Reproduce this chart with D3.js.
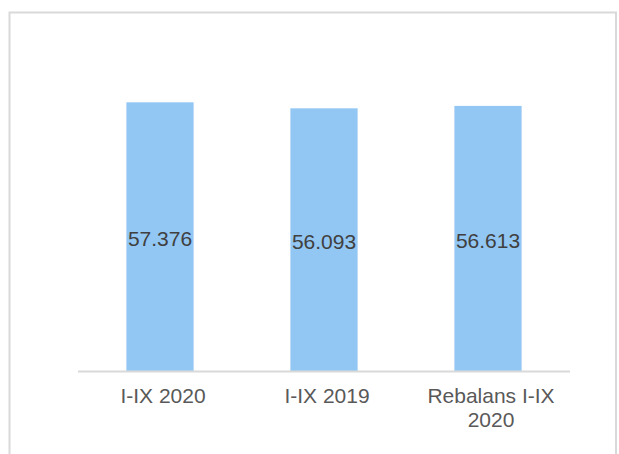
<!DOCTYPE html>
<html>
<head>
<meta charset="utf-8">
<script src="https://cdnjs.cloudflare.com/ajax/libs/d3/7.8.5/d3.min.js"></script>
<style>
  html, body { margin: 0; padding: 0; background: #fff; }
  svg { display: block; }
</style>
</head>
<body>
<div id="chart"></div>
<script>
// Chart data
var categories = ["I-IX 2020", "I-IX 2019", "Rebalans I-IX 2020"];
var categoryLines = [["I-IX 2020"], ["I-IX 2019"], ["Rebalans I-IX", "2020"]];
var values = [57376, 56093, 56613];
var valueLabels = ["57.376", "56.093", "56.613"];

var width = 619, height = 454;

var svg = d3.select("#chart").append("svg")
  .attr("width", width)
  .attr("height", height);

// outer frame (bottom edge is cut off in the picture)
svg.append("rect")
  .attr("x", 9.5)
  .attr("y", 12.5)
  .attr("width", 606.5)
  .attr("height", 470)
  .attr("fill", "none")
  .attr("stroke", "#d9d9d9")
  .attr("stroke-width", 2);

var x = d3.scaleBand()
  .domain(categories)
  .range([78, 570])
  .paddingInner(0.59)
  .paddingOuter(0.295);

var y = d3.scaleLinear()
  .domain([0, 70000])
  .range([371, 43.2]);

// bars
svg.append("g")
  .selectAll("rect")
  .data(values)
  .join("rect")
  .attr("x", (d, i) => x(categories[i]))
  .attr("y", d => y(d))
  .attr("width", x.bandwidth())
  .attr("height", d => y(0) - y(d))
  .attr("fill", "#92c6f3");

// value labels, centred in the bars
svg.append("g")
  .attr("font-family", "'Liberation Sans', Arial, sans-serif")
  .attr("font-size", 21)
  .attr("fill", "#404040")
  .attr("text-anchor", "middle")
  .selectAll("text")
  .data(values)
  .join("text")
  .attr("x", (d, i) => x(categories[i]) + x.bandwidth() / 2)
  .attr("y", d => (y(d) + y(0)) / 2 + 9.5)
  .text((d, i) => valueLabels[i]);

// category axis line
svg.append("line")
  .attr("x1", x.range()[0])
  .attr("x2", x.range()[1])
  .attr("y1", y(0) + 0.5)
  .attr("y2", y(0) + 0.5)
  .attr("stroke", "#d9d9d9")
  .attr("stroke-width", 2);

// category labels
var labels = svg.append("g")
  .attr("font-family", "'Liberation Sans', Arial, sans-serif")
  .attr("font-size", 21)
  .attr("fill", "#595959")
  .attr("text-anchor", "middle")
  .selectAll("text")
  .data(categories)
  .join("text")
  .attr("x", d => x(d) + x.bandwidth() / 2 + 3)
  .attr("y", 403);

labels.selectAll("tspan")
  .data((d, i) => categoryLines[i])
  .join("tspan")
  .attr("x", function() { return d3.select(this.parentNode).attr("x"); })
  .attr("dy", (d, j) => j === 0 ? 0 : 23.5)
  .text(d => d);
</script>
</body>
</html>
